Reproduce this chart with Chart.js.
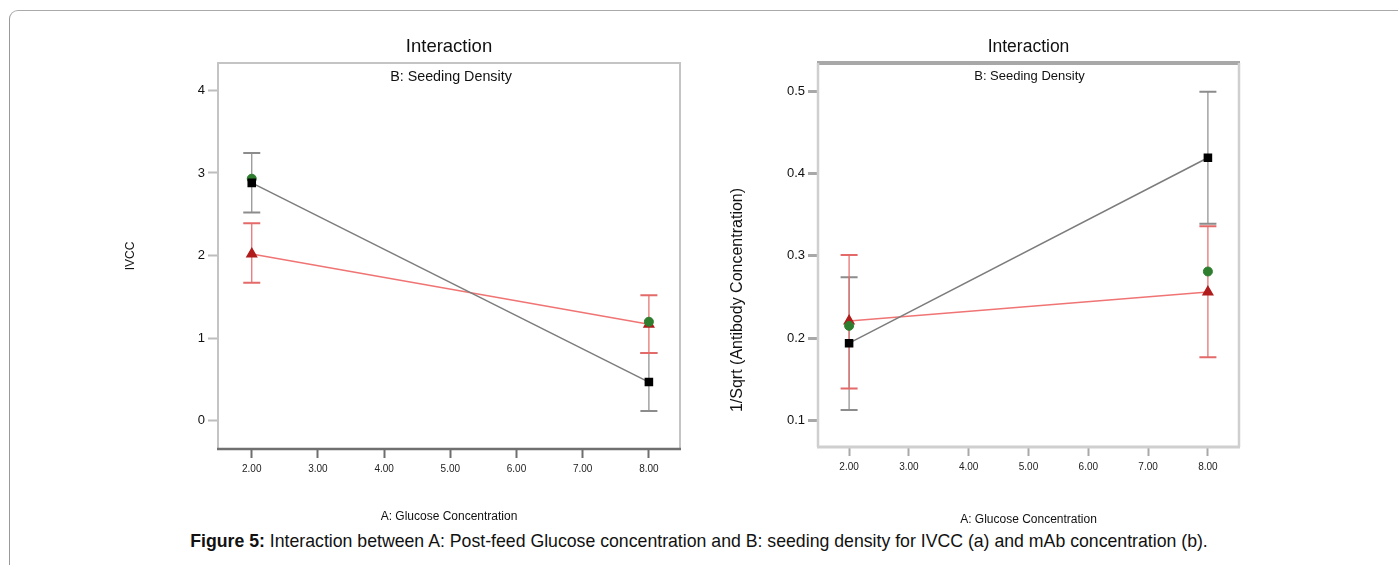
<!DOCTYPE html>
<html>
<head>
<meta charset="utf-8">
<title>Figure 5 - Interaction</title>
<script src="https://cdn.jsdelivr.net/npm/chart.js@4.4.1/dist/chart.umd.min.js"></script>
<style>
  body { margin: 0; background: #fff; font-family: "Liberation Sans", Arial, sans-serif; }
  .frame { position: absolute; left: 9px; top: 10px; width: 1420px; height: 600px;
           border-left: 1px solid #999; border-top: 1px solid #aaa; border-top-left-radius: 9px; }
  .plot { position: absolute; }
  #caption { position: absolute; left: 0; top: 531px; width: 1398px; text-align: center;
             font-size: 17.7px; line-height: 20px; color: #111; }
</style>
</head>
<body>
<div class="frame"></div>
<div class="plot" style="left:100px;top:30px;width:600px;height:500px"><canvas id="chartA"></canvas></div>
<div class="plot" style="left:720px;top:30px;width:560px;height:500px"><canvas id="chartB"></canvas></div>
<div id="caption"><b>Figure 5:</b> Interaction between A: Post-feed Glucose concentration and B: seeding density for IVCC (a) and mAb concentration (b).</div>

<script>
const FONT = '"Liberation Sans", Arial, sans-serif';

// A: glucose concentration levels and axis ticks
const glucose = [2, 8];
const xTicks = [2, 3, 4, 5, 6, 7, 8];
const xTickLabels = ['2.00', '3.00', '4.00', '5.00', '6.00', '7.00', '8.00'];

// (a) IVCC
const ivccTicks = [0, 1, 2, 3, 4];
const ivccLow = [2.88, 0.47];        // black squares
const ivccLowLo = [2.52, 0.12];
const ivccLowHi = [3.24, 0.82];
const ivccHigh = [2.02, 1.17];       // red triangles
const ivccHighLo = [1.67, 0.82];
const ivccHighHi = [2.39, 1.52];
const ivccDesign = [2.93, 1.20];     // green points

// (b) 1/Sqrt(Antibody Concentration)
const mabTicks = [0.1, 0.2, 0.3, 0.4, 0.5];
const mabLow = [0.194, 0.419];
const mabLowLo = [0.113, 0.339];
const mabLowHi = [0.274, 0.499];
const mabHigh = [0.221, 0.256];
const mabHighLo = [0.139, 0.177];
const mabHighHi = [0.301, 0.336];
const mabDesign = [0.215, 0.281];

const pts = ys => glucose.map((x, i) => ({ x: x, y: ys[i] }));

// border around the plot area, each side styled on its own
const plotBorder = {
    id: 'plotBorder',
    beforeDatasetsDraw(chart, args, opts) {
        const { ctx, chartArea: a } = chart;
        const side = (s, x1, y1, x2, y2) => {
            ctx.strokeStyle = s.color;
            ctx.lineWidth = s.width;
            ctx.beginPath();
            ctx.moveTo(x1, y1);
            ctx.lineTo(x2, y2);
            ctx.stroke();
        };
        ctx.save();
        side(opts.top, a.left - 1, a.top, a.right + 1, a.top);
        side(opts.right, a.right, a.top, a.right, a.bottom);
        side(opts.left, a.left, a.top, a.left, a.bottom);
        side(opts.bottom, a.left - 1, a.bottom, a.right + 1, a.bottom);
        ctx.restore();
    }
};

// vertical error bars with caps, from errLo / errHi on the dataset
const errorBars = {
    id: 'errorBars',
    beforeDatasetsDraw(chart) {
        const { ctx } = chart;
        const y = chart.scales.y;
        chart.data.datasets.forEach((ds, i) => {
            if (!ds.errLo) return;
            const meta = chart.getDatasetMeta(i);
            ctx.save();
            ctx.strokeStyle = ds.errColor;
            meta.data.forEach((pt, j) => {
                const lo = y.getPixelForValue(ds.errLo[j]);
                const hi = y.getPixelForValue(ds.errHi[j]);
                ctx.lineWidth = 1.2;
                ctx.beginPath();
                ctx.moveTo(pt.x, lo);
                ctx.lineTo(pt.x, hi);
                ctx.stroke();
                ctx.lineWidth = 2;
                ctx.beginPath();
                ctx.moveTo(pt.x - 8.5, lo); ctx.lineTo(pt.x + 8.5, lo);
                ctx.moveTo(pt.x - 8.5, hi); ctx.lineTo(pt.x + 8.5, hi);
                ctx.stroke();
            });
            ctx.restore();
        });
    }
};

// extra text placed relative to the plot area
const freeText = {
    id: 'freeText',
    afterDraw(chart, args, opts) {
        const { ctx, chartArea: a } = chart;
        (opts.items || []).forEach(t => {
            ctx.save();
            ctx.font = t.font;
            ctx.fillStyle = '#111';
            ctx.textAlign = 'center';
            ctx.textBaseline = 'middle';
            ctx.translate((a.left + a.right) / 2 + t.dx, a.top + t.dy);
            if (t.rotate) ctx.rotate(t.rotate);
            ctx.fillText(t.text, 0, 0);
            ctx.restore();
        });
    }
};

function makeChart(id, cfg) {
    const ctx = document.getElementById(id).getContext('2d');
    return new Chart(ctx, {
        type: 'scatter',
        data: {
            datasets: [{
                label: 'B-',
                data: pts(cfg.low),
                showLine: true,
                borderColor: '#7c7c7c',
                borderWidth: 1.5,
                pointStyle: 'rect',
                pointRadius: 5,
                pointBackgroundColor: '#000',
                pointBorderColor: '#000',
                errLo: cfg.lowLo,
                errHi: cfg.lowHi,
                errColor: '#8c8c8c'
            }, {
                label: 'Design points',
                data: pts(cfg.design),
                showLine: false,
                pointStyle: 'circle',
                pointRadius: 4.5,
                pointBackgroundColor: '#2f7d2f',
                pointBorderColor: '#2f7d2f'
            }, {
                label: 'B+',
                data: pts(cfg.high),
                showLine: true,
                borderColor: '#f07474',
                borderWidth: 1.5,
                pointStyle: 'triangle',
                pointRadius: 5.5,
                pointBackgroundColor: '#b01c1c',
                pointBorderColor: '#b01c1c',
                errLo: cfg.highLo,
                errHi: cfg.highHi,
                errColor: '#e46a6a'
            }]
        },
        options: {
            responsive: true,
            maintainAspectRatio: false,
            animation: false,
            events: [],
            layout: { padding: { top: 0, right: cfg.padRight, left: 0, bottom: 0 } },
            plugins: {
                legend: { display: false },
                tooltip: { enabled: false },
                title: {
                    display: true,
                    text: 'Interaction',
                    fullSize: false,
                    color: '#111',
                    font: { family: FONT, size: cfg.titleSize, weight: 'normal' },
                    padding: { top: 17 - cfg.titleSize * 0.6, bottom: 33 - (17 + cfg.titleSize * 0.6) }
                },
                plotBorder: cfg.border,
                freeText: { items: cfg.texts }
            },
            scales: {
                x: {
                    type: 'linear',
                    min: cfg.xMin,
                    max: cfg.xMax,
                    afterBuildTicks: ax => { ax.ticks = xTicks.map(v => ({ value: v })); },
                    afterFit: s => { s.height = cfg.xHeight; },
                    border: { display: false },
                    grid: { drawOnChartArea: false, drawTicks: true, tickLength: 9, tickColor: cfg.xTickColor, tickWidth: 2 },
                    ticks: {
                        color: '#222', padding: 5, maxRotation: 0, autoSkip: false,
                        font: { family: FONT, size: 10 },
                        callback: (v, i) => xTickLabels[i]
                    },
                    title: {
                        display: true,
                        text: 'A: Glucose Concentration',
                        color: '#111',
                        font: { family: FONT, size: 12 },
                        padding: { top: 0, bottom: cfg.xTitlePad }
                    }
                },
                y: {
                    type: 'linear',
                    min: cfg.yMin,
                    max: cfg.yMax,
                    afterBuildTicks: ax => { ax.ticks = cfg.yTicks.map(v => ({ value: v })); },
                    afterFit: s => { s.width = cfg.yWidth; },
                    border: { display: false },
                    grid: { drawOnChartArea: false, drawTicks: true, tickLength: 10, tickColor: cfg.yTickColor, tickWidth: cfg.yTickWidth },
                    ticks: {
                        color: '#111', padding: 3,
                        font: { family: FONT, size: 13 },
                        callback: v => String(v)
                    },
                    title: {
                        display: cfg.yTitle !== null,
                        text: cfg.yTitle || '',
                        color: '#111',
                        font: { family: FONT, size: 12 },
                        padding: { top: 23 }
                    }
                }
            }
        },
        plugins: [plotBorder, errorBars, freeText]
    });
}

makeChart('chartA', {
    low: ivccLow, lowLo: ivccLowLo, lowHi: ivccLowHi,
    high: ivccHigh, highLo: ivccHighLo, highHi: ivccHighHi,
    design: ivccDesign,
    yTicks: ivccTicks, yMin: -0.34, yMax: 4.33,
    xMin: 1.49, xMax: 8.47,
    padRight: 20, yWidth: 118, xHeight: 81, xTitlePad: 6,
    yTitle: 'IVCC', titleSize: 18.5,
    xTickColor: '#6e6e6e', yTickColor: '#bdbdbd', yTickWidth: 2,
    border: {
        top: { color: '#c4c4c4', width: 2 },
        right: { color: '#c4c4c4', width: 2 },
        left: { color: '#c4c4c4', width: 2 },
        bottom: { color: '#707070', width: 2.5 }
    },
    texts: [{ text: 'B: Seeding Density', font: '14.3px ' + FONT, dx: 2, dy: 14 }]
});

makeChart('chartB', {
    low: mabLow, lowLo: mabLowLo, lowHi: mabLowHi,
    high: mabHigh, highLo: mabHighLo, highHi: mabHighHi,
    design: mabDesign,
    yTicks: mabTicks, yMin: 0.068, yMax: 0.534,
    xMin: 1.48, xMax: 8.52,
    padRight: 41, yWidth: 98, xHeight: 83, xTitlePad: 3,
    yTitle: null, titleSize: 17.5,
    xTickColor: '#a8a8a8', yTickColor: '#a8a8a8', yTickWidth: 3,
    border: {
        top: { color: '#a8a8a8', width: 4 },
        right: { color: '#cfcfcf', width: 2.5 },
        left: { color: '#cfcfcf', width: 2.5 },
        bottom: { color: '#cfcfcf', width: 3 }
    },
    texts: [
        { text: 'B: Seeding Density', font: '13px ' + FONT, dx: 1, dy: 13 },
        { text: '1/Sqrt (Antibody Concentration)', font: '16px ' + FONT, dx: -291, dy: 237, rotate: -Math.PI / 2 }
    ]
});
</script>
</body>
</html>
